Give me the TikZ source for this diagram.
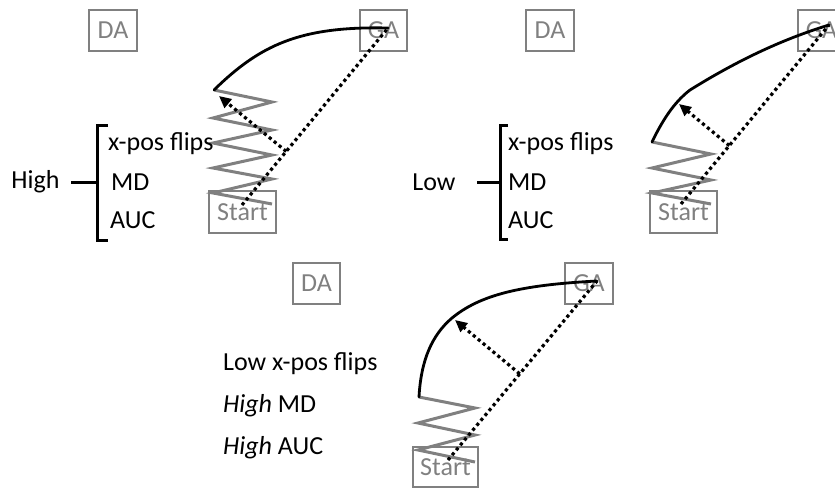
\documentclass[tikz,border=0pt]{standalone}
\usepackage{fontspec}
\setmainfont{Carlito}
\usetikzlibrary{arrows.meta,calc}
\definecolor{boxgray}{RGB}{128,128,128}
\begin{document}
\begin{tikzpicture}[x=1pt,y=-1pt,
  every node/.style={font=\fontsize{26}{31}\selectfont, inner sep=0pt},
  areabox/.style={draw=boxgray, line width=2.6pt, text=boxgray, minimum height=41pt},
  zig/.style={draw=boxgray, line width=3pt, line join=miter},
  traj/.style={draw=black, line width=2.8pt, line cap=round},
  dots/.style={draw=black, line width=3.2pt, dash pattern=on 3.2pt off 3.2pt},
  perp/.style={dots, -{Triangle[length=12pt,width=11pt]}},
  brk/.style={draw=black, line width=3pt},
  lbl/.style={anchor=base west}]
\useasboundingbox (0,0) rectangle (835,488);
\clip (0,0) rectangle (835,488);

% ---------------- Panel 1 ----------------
\node[areabox, minimum width=48pt] (da1) at (113,30.5) {DA};
\node[areabox, minimum width=47pt] (ga1) at (383.5,30.5) {GA};
\node[areabox, minimum width=67pt, minimum height=42pt] (st1) at (242.5,212) {Start};
\coordinate (s1) at (242,205);
\coordinate (g1) at (388,28);
\coordinate (c1) at (214,90);
\coordinate (a1) at (219,96);
\draw[zig] (c1) -- (272,102) -- (213,118) -- (272,130) -- (213,143) -- (272,155)
  -- (213,168) -- (272,179) -- (213,193) -- (272,204);
\draw[traj] (c1) .. controls (260,45) and (300,26) .. (g1);
\draw[dots] (s1) -- (g1);
\coordinate (f1) at ($(s1)!(a1)!(g1)$);
\draw[perp] (f1) -- (a1);
\node[anchor=center] (hi1) at (35.5,182) {High};
\coordinate (b1t) at (108,125);
\coordinate (b1b) at (108,240);
\coordinate (b1m) at (97,182);
\coordinate (b1l) at (71,182);
\draw[brk] (b1t) -- (97,125) -- (97,240) -- (b1b);
\draw[brk] (b1l) -- (b1m);
\node[lbl] (x1) at (108,150) {x-pos flips};
\node[lbl] (m1) at (111,190) {MD};
\node[lbl] (u1) at (110,228) {AUC};

% ---------------- Panel 2 ----------------
\node[areabox, minimum width=48pt] (da2) at (550,30.5) {DA};
\node[areabox, minimum width=47pt] (ga2) at (821.5,30.5) {GA};
\node[areabox, minimum width=67pt, minimum height=42pt] (st2) at (683.5,212) {Start};
\coordinate (s2) at (681,204);
\coordinate (g2) at (829,25);
\coordinate (c2) at (652,142);
\coordinate (k2) at (690,90);
\coordinate (a2) at (679,104);
\draw[zig] (c2) -- (711,154) -- (652,168) -- (711,180) -- (652,193) -- (711,204);
\draw[traj] (c2) .. controls (665,115) and (677,100) .. (k2)
  .. controls (735,62) and (780,40) .. (g2);
\draw[dots] (s2) -- (g2);
\coordinate (f2) at ($(s2)!(a2)!(g2)$);
\draw[perp] (f2) -- (a2);
\node[anchor=center] (lo2) at (434,182) {Low};
\coordinate (b2t) at (508,125);
\coordinate (b2b) at (508,239);
\coordinate (b2m) at (500,182);
\coordinate (b2l) at (477,182);
\draw[brk] (b2t) -- (500,125) -- (500,239) -- (b2b);
\draw[brk] (b2l) -- (b2m);
\node[lbl] (x2) at (508,150) {x-pos flips};
\node[lbl] (m2) at (508,190) {MD};
\node[lbl] (u2) at (508,228) {AUC};

% ---------------- Panel 3 ----------------
\node[areabox, minimum width=47pt] (da3) at (316.5,283.5) {DA};
\node[areabox, minimum width=48pt] (ga3) at (589,283.5) {GA};
\node[areabox, minimum width=65pt, minimum height=40pt] (st3) at (445.5,467) {Start};
\coordinate (s3) at (448,460);
\coordinate (g3) at (597,281);
\coordinate (c3) at (419,397);
\coordinate (k3) at (452,318);
\coordinate (a3) at (455,320);
\draw[zig] (c3) -- (475,408) -- (418,423) -- (475,435) -- (418,450) -- (475,462);
\draw[traj] (c3) .. controls (421,360) and (432,335) .. (k3)
  .. controls (480,295) and (520,285) .. (g3);
\draw[dots] (s3) -- (g3);
\coordinate (f3) at ($(s3)!(a3)!(g3)$);
\draw[perp] (f3) -- (a3);
\node[lbl] (x3) at (223,370) {Low x-pos flips};
\node[lbl] (m3) at (223,412) {\textit{High} MD};
\node[lbl] (u3) at (223,454) {\textit{High} AUC};
\end{tikzpicture}
\end{document}
